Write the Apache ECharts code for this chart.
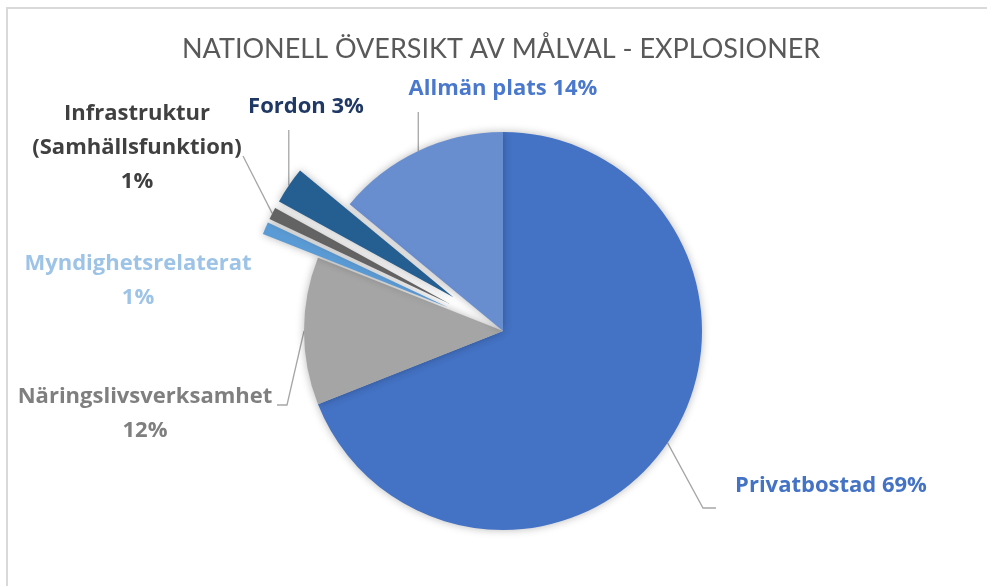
<!DOCTYPE html>
<html>
<head>
<meta charset="utf-8">
<script src="https://cdn.jsdelivr.net/npm/echarts@6/dist/echarts.min.js"></script>
<style>
  html, body { margin: 0; padding: 0; background: #fff; }
  #chart { width: 987px; height: 586px; }
</style>
</head>
<body>
<div id="chart"></div>
<script>
// data
const categories = ['Privatbostad', 'Näringslivsverksamhet', 'Myndighetsrelaterat',
  'Infrastruktur\n(Samhällsfunktion)', 'Fordon', 'Allmän plats'];
const percents = [69, 12, 1, 1, 3, 14];
const exploded = [false, false, true, true, true, false];

const sliceColors = ['#4472C4', '#A5A5A5', '#5B9BD5', '#636363', '#255E91', '#698ED0'];
const labelColors = ['#4472C4', '#7F7F7F', '#9DC3E6', '#404040', '#203864', '#4A78CC'];
// label on one line or with percent below
const oneLine = [true, false, false, false, true, true];

const CX = 503, CY = 331, R = 199, OFFSET = 60;

// where the labels sit (centre of text block) and how the leader line bends
const labelPos = [
  { x: 831, y: 486, line: [[703, 508], [716, 508]] },
  { x: 145, y: 414, line: [[287, 405], [277, 405]] },
  { x: 138, y: 281, line: null },
  { x: 137, y: 148, line: [[243, 156]] },
  { x: 306, y: 107, line: 'up' },
  { x: 503, y: 89, line: 'up' }
];

const total = percents.reduce((a, b) => a + b, 0);
const midAngles = [];
let acc = 0;
percents.forEach(v => {
  midAngles.push((acc + v / 2) / total * Math.PI * 2);
  acc += v;
});

function shift(i) {
  if (!exploded[i]) return [0, 0];
  return [OFFSET * Math.sin(midAngles[i]), -OFFSET * Math.cos(midAngles[i])];
}

function anchor(i) {
  const r = R + (exploded[i] ? OFFSET : 0);
  return [CX + r * Math.sin(midAngles[i]), CY - r * Math.cos(midAngles[i])];
}

function layoutLabel(p) {
  const i = p.dataIndex;
  const lp = labelPos[i];
  const a = anchor(i);
  let pts;
  if (lp.line === 'up') {
    pts = [a, [a[0], p.labelRect.height / 2 + lp.y + 6]];
  } else if (lp.line) {
    pts = [a].concat(lp.line);
  }
  const out = { x: lp.x, y: lp.y, align: 'center', verticalAlign: 'middle' };
  if (pts) out.labelLinePoints = pts;
  return out;
}

const hidden = {
  itemStyle: { color: 'transparent', shadowBlur: 0 },
  label: { show: false },
  labelLine: { show: false }
};

// one pie for the slices in place, one pie per pulled-out slice
function pieSeries(showIndex) {
  const s = showIndex == null ? [0, 0] : shift(showIndex);
  return {
    type: 'pie',
    center: [CX + s[0], CY + s[1]],
    radius: R,
    startAngle: 90,
    clockwise: true,
    avoidLabelOverlap: false,
    emphasis: { disabled: true },
    itemStyle: {
      shadowBlur: 9,
      shadowColor: 'rgba(0,0,0,0.28)'
    },
    label: {
      show: true,
      position: 'outside',
      fontFamily: 'Open Sans',
      fontWeight: 'bold',
      fontSize: 22,
      lineHeight: 34,
      align: 'center',
      formatter: p => oneLine[p.dataIndex]
        ? p.name + ' ' + p.value + '%'
        : p.name + '\n' + p.value + '%'
    },
    labelLine: {
      show: true,
      lineStyle: { color: '#A6A6A6', width: 1.3 }
    },
    labelLayout: layoutLabel,
    data: categories.map((c, i) => {
      const visible = showIndex == null ? !exploded[i] : i === showIndex;
      const item = { name: c, value: percents[i] };
      if (!visible) return Object.assign(item, hidden);
      return Object.assign(item, {
        itemStyle: { color: sliceColors[i] },
        label: { color: labelColors[i] },
        labelLine: { show: labelPos[i].line !== null }
      });
    })
  };
}

const series = [pieSeries(null)];
exploded.forEach((e, i) => { if (e) series.push(pieSeries(i)); });

const chart = echarts.init(document.getElementById('chart'));

chart.setOption({
  animation: false,
  backgroundColor: '#fff',
  title: {
    text: 'NATIONELL ÖVERSIKT AV MÅLVAL - EXPLOSIONER',
    left: 177,
    top: 31,
    textStyle: {
      fontFamily: 'Lato',
      fontWeight: 'normal',
      fontSize: 27,
      color: '#595959'
    }
  },
  graphic: [
    { type: 'polyline', shape: { points: [[7, 586], [7, 8], [987, 8]] },
      style: { stroke: '#D9D9D9', lineWidth: 2, fill: null }, silent: true }
  ],
  series: series
});
</script>
</body>
</html>
